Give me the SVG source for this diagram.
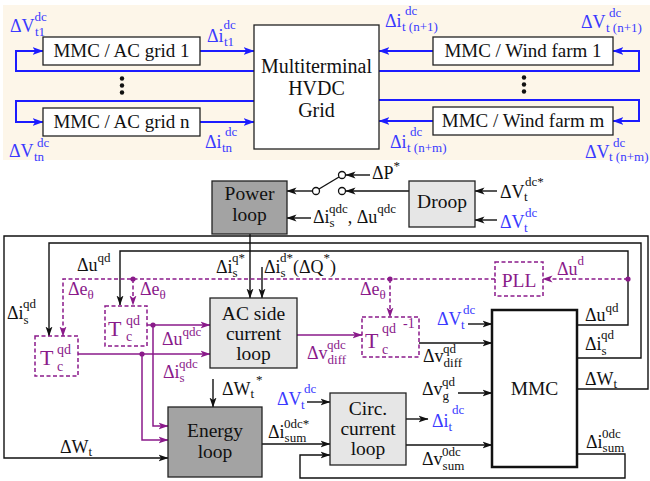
<svg xmlns="http://www.w3.org/2000/svg" width="650" height="481" viewBox="0 0 650 481" font-family="'Liberation Serif', 'Times New Roman', 'DejaVu Serif', serif">
<defs>
<style>
text{font-family:'Liberation Serif','Times New Roman','DejaVu Serif',serif}
.bt{font-size:19px;text-anchor:middle;fill:#111}
.bh{font-size:20px;text-anchor:middle;fill:#111}
.bb{font-size:19.5px;text-anchor:middle;fill:#111}
.m{font-size:18px;fill:#111}
.s{font-size:13px}
.tb{font-size:22px}
.s2{font-size:14px}
.blue{fill:#3a3aff}
.pur{fill:#8a1a8a}
.ln{fill:none;stroke:#111;stroke-width:1.4}
.lb{fill:none;stroke:#1c1cff;stroke-width:2}
.lp{fill:none;stroke:#8a1a8a;stroke-width:1.5}
.ld{fill:none;stroke:#8a1a8a;stroke-width:1.5;stroke-dasharray:4 2.5}
.box{stroke:#222;stroke-width:1.3}
.dbox{fill:none;stroke:#8a1a8a;stroke-width:1.5;stroke-dasharray:4 2.5}
.dot{fill:#8a1a8a}
</style>
<marker id="ak" viewBox="0 0 10 8" refX="9.5" refY="4" markerWidth="10" markerHeight="8" markerUnits="userSpaceOnUse" orient="auto"><path d="M0,0.5 L10,4 L0,7.5 L2.5,4 Z" fill="#111"/></marker>
<marker id="ab" viewBox="0 0 10 8" refX="9.5" refY="4" markerWidth="11" markerHeight="9" markerUnits="userSpaceOnUse" orient="auto"><path d="M0,0.5 L10,4 L0,7.5 L2.5,4 Z" fill="#1c1cff"/></marker>
<marker id="ap" viewBox="0 0 10 8" refX="9.5" refY="4" markerWidth="10" markerHeight="8" markerUnits="userSpaceOnUse" orient="auto"><path d="M0,0.5 L10,4 L0,7.5 L2.5,4 Z" fill="#8a1a8a"/></marker>
</defs>

<rect x="3" y="5" width="647" height="155" fill="#fdf6e9"/>

<g id="connectors">
  <g id="top-links">
    <path class="lb" d="M254,71 H16 V51 H43" marker-end="url(#ab)"/>
    <path class="lb" d="M200,51 H254" marker-end="url(#ab)"/>
    <path class="lb" d="M254,101 H16 V122 H43" marker-end="url(#ab)"/>
    <path class="lb" d="M200,122 H254" marker-end="url(#ab)"/>
    <path class="lb" d="M379,71 H639 V51 H613" marker-end="url(#ab)"/>
    <path class="lb" d="M433,51 H379" marker-end="url(#ab)"/>
    <path class="lb" d="M379,100 H639 V121 H613" marker-end="url(#ab)"/>
    <path class="lb" d="M433,121 H379" marker-end="url(#ab)"/>
  </g>
  <g id="ctrl-links">
    <path class="ln" d="M312,191 H287" marker-end="url(#ak)"/>
    <path class="ln" d="M319,189 L339,177"/>
    <path class="ln" d="M370,175 H346" marker-end="url(#ak)"/>
    <path class="ln" d="M409,191 H346" marker-end="url(#ak)"/>
    <path class="ln" d="M497,191 H475" marker-end="url(#ak)"/>
    <path class="ln" d="M497,220 H475" marker-end="url(#ak)"/>
    <path class="ln" d="M311,218 H287" marker-end="url(#ak)"/>
    <path class="ln" d="M250,234 V298" marker-end="url(#ak)"/>
    <path class="ln" d="M262,267 V298" marker-end="url(#ak)"/>
    <path class="ln" d="M577,389 H648 V236 H4 V458 H168" marker-end="url(#ak)"/>
    <path class="ln" d="M577,358 H641 V243 H49 V336" marker-end="url(#ak)"/>
    <path class="ln" d="M577,325 H628 V251 H120 V305" marker-end="url(#ak)"/>
    <path class="ld" d="M628,279 H543" marker-end="url(#ap)"/>
    <path class="ld" d="M495,279 H63 V336" marker-end="url(#ap)"/>
    <path class="ld" d="M133,279 V305" marker-end="url(#ap)"/>
    <path class="ld" d="M390,279 V317" marker-end="url(#ap)"/>
    <path class="lp" d="M147,325 H210" marker-end="url(#ap)"/>
    <path class="lp" d="M153,325 V426 H168" marker-end="url(#ap)"/>
    <path class="lp" d="M78,354 H210" marker-end="url(#ap)"/>
    <path class="lp" d="M142,354 V440 H168" marker-end="url(#ap)"/>
    <path class="lp" d="M297,335 H362" marker-end="url(#ap)"/>
    <path class="ln" d="M419,343 H492" marker-end="url(#ak)"/>
    <path class="ln" d="M468,324 H492" marker-end="url(#ak)"/>
    <path class="ln" d="M458,393 H492" marker-end="url(#ak)"/>
    <path class="ln" d="M406,445 H492" marker-end="url(#ak)"/>
    <path class="ln" d="M406,419 H428" marker-end="url(#ak)"/>
    <path class="ln" d="M213,379 V407" marker-end="url(#ak)"/>
    <path class="ln" d="M262,444 H330" marker-end="url(#ak)"/>
    <path class="ln" d="M307,402 H330" marker-end="url(#ak)"/>
    <path class="ln" d="M577,454 H625 V478 H300 V455 H330" marker-end="url(#ak)"/>
    <circle class="dot" cx="133" cy="279" r="2.6"/>
    <circle class="dot" cx="390" cy="279" r="2.6"/>
    <circle class="dot" cx="628" cy="279" r="2.6"/>
    <circle class="dot" cx="153" cy="325" r="2.6"/>
    <circle class="dot" cx="142" cy="354" r="2.6"/>
  </g>
</g>

<g id="dots-left"><circle cx="122" cy="78.5" r="2.2" fill="#111"/><circle cx="122" cy="85.5" r="2.2" fill="#111"/><circle cx="122" cy="92.5" r="2.2" fill="#111"/></g>
<g id="dots-right"><circle cx="524" cy="77.5" r="2.2" fill="#111"/><circle cx="524" cy="84.5" r="2.2" fill="#111"/><circle cx="524" cy="91.5" r="2.2" fill="#111"/></g>

<g id="mmc-ac1"><rect class="box" x="43" y="37" width="157" height="28" fill="#fff"/><text class="bt" x="121.5" y="57">MMC / AC grid 1</text></g>
<g id="mmc-acn"><rect class="box" x="43" y="108" width="157" height="28" fill="#fff"/><text class="bt" x="121.5" y="128">MMC / AC grid n</text></g>
<g id="hvdc"><rect class="box" x="254" y="25" width="125" height="124" fill="#fff"/><text class="bh" x="316.5" y="73">Multiterminal</text><text class="bh" x="316.5" y="95">HVDC</text><text class="bh" x="316.5" y="117">Grid</text></g>
<g id="mmc-wf1"><rect class="box" x="433" y="37" width="180" height="28" fill="#fff"/><text class="bt" x="523" y="57">MMC / Wind farm 1</text></g>
<g id="mmc-wfm"><rect class="box" x="433" y="107" width="180" height="28" fill="#fff"/><text class="bt" x="523" y="127">MMC / Wind farm m</text></g>

<g id="top-labels">
  <text class="m blue" x="10" y="32">ΔV<tspan class="s" y="21">dc</tspan><tspan class="s" x="35" y="36">t1</tspan></text>
  <text class="m blue" x="207" y="42">Δi<tspan class="s" y="29">dc</tspan><tspan class="s" x="224" y="46">t1</tspan></text>
  <text class="m blue" x="385" y="27">Δi<tspan class="s" x="405" y="15">dc</tspan><tspan class="s" x="402" y="31">t (n+1)</tspan></text>
  <text class="m blue" x="581" y="28">ΔV<tspan class="s" x="609" y="17">dc</tspan><tspan class="s" x="606" y="32">t (n+1)</tspan></text>
  <text class="m blue" x="9" y="157">ΔV<tspan class="s" x="37" y="147">dc</tspan><tspan class="s" x="34" y="161">tn</tspan></text>
  <text class="m blue" x="205" y="148">Δi<tspan class="s" x="225" y="136">dc</tspan><tspan class="s" x="222" y="152">tn</tspan></text>
  <text class="m blue" x="390" y="148">Δi<tspan class="s" x="410" y="136">dc</tspan><tspan class="s" x="407" y="152">t (n+m)</tspan></text>
  <text class="m blue" x="585" y="158">ΔV<tspan class="s" x="613" y="147">dc</tspan><tspan class="s" x="609" y="161">t (n+m)</tspan></text>
</g>

<g id="switch"><circle cx="316" cy="191" r="3.5" fill="#fff" stroke="#111" stroke-width="1.3"/><circle cx="342" cy="175" r="3.5" fill="#fff" stroke="#111" stroke-width="1.3"/><circle cx="342" cy="191" r="3.5" fill="#fff" stroke="#111" stroke-width="1.3"/></g>

<g id="power-loop"><rect class="box" x="212" y="181" width="75" height="53" fill="#a3a3a3"/><text class="bb" x="249.5" y="200">Power</text><text class="bb" x="249.5" y="221">loop</text></g>
<g id="droop"><rect class="box" x="409" y="181" width="66" height="46" fill="#e6e6e6"/><text class="bb" x="442" y="208">Droop</text></g>
<g id="ac-loop"><rect class="box" x="210" y="298" width="87" height="70" fill="#e6e6e6"/><text class="bb" x="253.5" y="320">AC side</text><text class="bb" x="253.5" y="340">current</text><text class="bb" x="253.5" y="360">loop</text></g>
<g id="energy-loop"><rect class="box" x="168" y="407" width="94" height="70" fill="#a3a3a3"/><text class="bb" x="215" y="437">Energy</text><text class="bb" x="215" y="458">loop</text></g>
<g id="circ-loop"><rect class="box" x="330" y="393" width="76" height="72" fill="#e6e6e6"/><text class="bb" x="368" y="415">Circ.</text><text class="bb" x="368" y="435">current</text><text class="bb" x="368" y="455">loop</text></g>
<g id="mmc"><rect x="492" y="310" width="85" height="157" fill="#fff" stroke="#111" stroke-width="2.5"/><text class="bb" x="534.5" y="395">MMC</text></g>
<g id="pll"><rect class="dbox" x="495" y="262" width="48" height="34"/><text class="bb pur" x="519" y="287">PLL</text></g>
<g id="tc-upper"><rect class="dbox" x="105" y="306" width="42" height="40"/><text class="m pur tb" x="108" y="336">T<tspan class="s2" x="126" y="325">qd</tspan><tspan class="s2" x="126" y="341">c</tspan></text></g>
<g id="tc-lower"><rect class="dbox" x="35" y="336" width="43" height="40"/><text class="m pur tb" x="40" y="365">T<tspan class="s2" x="57" y="354">qd</tspan><tspan class="s2" x="57" y="371">c</tspan></text></g>
<g id="tc-inv"><rect class="dbox" x="362" y="317" width="57" height="40"/><text class="m pur tb" x="365" y="348">T<tspan class="s2" x="382" y="333">qd</tspan><tspan class="s2" x="403" y="328">-1</tspan><tspan class="s2" x="382" y="354">c</tspan></text></g>

<g id="ctrl-labels">
  <text class="m" x="372" y="179">ΔP<tspan class="s" y="170">*</tspan></text>
  <text class="m" x="313" y="223">Δi<tspan class="s" y="227">s</tspan><tspan class="s" x="329" y="213">qdc</tspan><tspan y="223">, Δu</tspan><tspan class="s" y="213">qdc</tspan></text>
  <text class="m" x="500" y="198">ΔV<tspan class="s" x="524" y="201">t</tspan><tspan class="s" x="525" y="186">dc*</tspan></text>
  <text class="m blue" x="500" y="228">ΔV<tspan class="s" x="524" y="232">t</tspan><tspan class="s" x="525" y="217">dc</tspan></text>
  <text class="m" x="7" y="319">Δi<tspan class="s" y="324">s</tspan><tspan class="s" x="23" y="308">qd</tspan></text>
  <text class="m" x="77" y="271">Δu<tspan class="s" y="262">qd</tspan></text>
  <text class="m pur" x="68" y="295">Δe<tspan class="s" y="299">θ</tspan></text>
  <text class="m pur" x="140" y="295">Δe<tspan class="s" y="299">θ</tspan></text>
  <text class="m pur" x="360" y="295">Δe<tspan class="s" y="299">θ</tspan></text>
  <text class="m pur" x="162" y="345">Δu<tspan class="s" y="336">qdc</tspan></text>
  <text class="m pur" x="163" y="378">Δi<tspan class="s" y="382">s</tspan><tspan class="s" x="179" y="368">qdc</tspan></text>
  <text class="m" x="60" y="453">ΔW<tspan class="s" y="456">t</tspan></text>
  <text class="m" x="216" y="273">Δi<tspan class="s" y="277">s</tspan><tspan class="s" x="232" y="262">q*</tspan></text>
  <text class="m" x="264" y="273">Δi<tspan class="s" y="277">s</tspan><tspan class="s" x="280" y="262">d*</tspan><tspan x="293" y="273">(ΔQ</tspan><tspan class="s" y="262">*</tspan><tspan y="273">)</tspan></text>
  <text class="m pur" x="307" y="359">Δv<tspan class="s" y="364">diff</tspan><tspan class="s" x="327" y="349">qdc</tspan></text>
  <text class="m pur" x="557" y="275">Δu<tspan class="s" y="265">d</tspan></text>
  <text class="m blue" x="437" y="325">ΔV<tspan class="s" x="461" y="329">t</tspan><tspan class="s" x="463" y="314">dc</tspan></text>
  <text class="m" x="423" y="362">Δv<tspan class="s" y="367">diff</tspan><tspan class="s" x="443" y="353">qd</tspan></text>
  <text class="m" x="422" y="395">Δv<tspan class="s" y="400">g</tspan><tspan class="s" x="442" y="386">qd</tspan></text>
  <text class="m blue" x="432" y="427">Δi<tspan class="s" y="431">t</tspan><tspan class="s" x="452" y="414">dc</tspan></text>
  <text class="m" x="422" y="465">Δv<tspan class="s" y="470">sum</tspan><tspan class="s" x="442" y="456">0dc</tspan></text>
  <text class="m" x="585" y="321">Δu<tspan class="s" y="312">qd</tspan></text>
  <text class="m" x="585" y="350">Δi<tspan class="s" y="355">s</tspan><tspan class="s" x="601" y="339">qd</tspan></text>
  <text class="m" x="585" y="385">ΔW<tspan class="s" y="388">t</tspan></text>
  <text class="m" x="586" y="448">Δi<tspan class="s" y="452">sum</tspan><tspan class="s" x="602" y="438">0dc</tspan></text>
  <text class="m" x="222" y="395">ΔW<tspan class="s" y="398">t</tspan><tspan class="s" x="256" y="384">*</tspan></text>
  <text class="m blue" x="277" y="405">ΔV<tspan class="s" x="301" y="409">t</tspan><tspan class="s" x="304" y="393">dc</tspan></text>
  <text class="m" x="268" y="438">Δi<tspan class="s" y="442">sum</tspan><tspan class="s" x="284" y="428">0dc*</tspan></text>
</g>
</svg>
